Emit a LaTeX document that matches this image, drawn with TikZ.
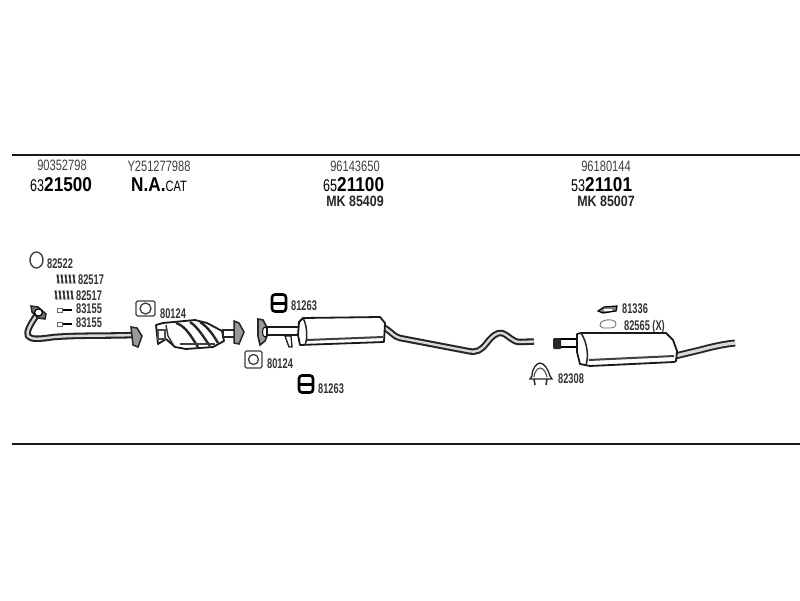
\documentclass[tikz,border=0pt]{standalone}
\usepackage{fontspec}
\setmainfont{Liberation Sans}
\newfontfamily\narrowreg[FakeStretch=0.74]{Liberation Sans}
\newfontfamily\narrowbold[FakeStretch=0.66]{Liberation Sans}
\newfontfamily\mkbold[FakeStretch=0.83]{Liberation Sans}
\newfontfamily\widebold[FakeStretch=0.86]{Liberation Sans}
\begin{document}
\begin{tikzpicture}[x=1pt,y=-1pt,
  rule/.style={line width=1.8pt,draw=black!90},
  hdr/.style={inner sep=0pt,anchor=center,font=\narrowreg\fontsize{15}{15}\selectfont,text=black!75},
  mk/.style={inner sep=0pt,anchor=center,font=\mkbold\bfseries\fontsize{15}{15}\selectfont,text=black!85},
  big/.style={inner sep=0pt,anchor=west,font=\fontsize{20}{20}\selectfont,text=black},
  part/.style={inner sep=0pt,anchor=west,font=\narrowbold\bfseries\fontsize{14}{14}\selectfont,text=black!80},
  pipeo/.style={line width=6.5pt,draw=black!85,line join=round},
  pipei/.style={line width=2.4pt,draw=black!15,line join=round},
  shell/.style={draw=black!90,line width=1.8pt,fill=white,line join=round},
  gasket/.style={draw=black!75,line width=1.3pt,fill=white},
  hanger/.style={draw=black,line width=2.6pt,fill=white,rounded corners=3pt}]
\useasboundingbox (0,0) rectangle (800,600);
\fill[white] (0,0) rectangle (800,600);
\coordinate (r1a) at (12,155); \coordinate (r1b) at (800,155);
\coordinate (r2a) at (12,444); \coordinate (r2b) at (800,444);
\draw[rule] (r1a) -- (r1b);
\draw[rule] (r2a) -- (r2b);
% header text
\node[hdr] (h1) at (62,165.5) {90352798};
\node[big] (h1b) at (30,184.5) {{\narrowreg\fontsize{17}{17}\selectfont 63}{\widebold\bfseries 21500}};
\node[hdr] (h2) at (159,166) {Y251277988};
\node[big] (h2b) at (131,185) {{\widebold\bfseries N.A.}{\narrowreg\fontsize{15}{15}\selectfont CAT}};
\node[hdr] (h3) at (355,166) {96143650};
\node[big] (h3b) at (323,184.5) {{\narrowreg\fontsize{17}{17}\selectfont 65}{\widebold\bfseries 21100}};
\node[mk] (h3c) at (355,201) {MK 85409};
\node[hdr] (h4) at (606,166) {96180144};
\node[big] (h4b) at (571,184.5) {{\narrowreg\fontsize{17}{17}\selectfont 53}{\widebold\bfseries 21101}};
\node[mk] (h4c) at (606,201) {MK 85007};
% part labels
\node[part] (p1) at (47,263.5) {82522};
\node[part] (p2) at (78,279.5) {82517};
\node[part] (p3) at (76,295.5) {82517};
\node[part] (p4) at (76,309) {83155};
\node[part] (p5) at (76,323) {83155};
\node[part] (p6) at (160,313.5) {80124};
\node[part] (p7) at (291,306) {81263};
\node[part] (p8) at (267,364) {80124};
\node[part] (p9) at (318,389) {81263};
\node[part] (p10) at (622,309) {81336};
\node[part] (p11) at (624,326.5) {82565 (X)};
\node[part] (p12) at (558,379) {82308};
% ring 82522
\draw[black!75,line width=1.4pt,fill=white] (36.5,260) ellipse (6.5 and 8);
% springs
\foreach \x/\y in {58/279,56/295}{
  \foreach \d in {0,4,8,12,16}{
    \draw[black!85,line width=1.3pt] (\x+\d-1,\y-4.5) -- (\x+\d+1,\y+4.5);
    \draw[black!70,line width=.8pt] (\x+\d+1,\y-4.5) -- (\x+\d-1,\y+4.5);
  }
}
% bolts
\foreach \y in {310,324}{
  \draw[black!60,line width=.8pt] (57,\y-2) rectangle (62,\y+2);
  \draw[black,line width=2.4pt] (63,\y) -- (72,\y);
}
% front pipe
\draw[pipeo] (36,316) .. controls (30,325) and (26,332) .. (28,336) .. controls (31,340) and (40,339) .. (54,337) .. controls (80,335) and (110,336) .. (134,335);
\draw[pipei] (36,316) .. controls (30,325) and (26,332) .. (28,336) .. controls (31,340) and (40,339) .. (54,337) .. controls (80,335) and (110,336) .. (134,335);
\draw[black!85,line width=1.5pt,fill=black!55] (31,306) -- (38,307) -- (46,314) -- (45,319) -- (38,318) -- (32,312) -- cycle;
\draw[black,line width=1.2pt,fill=white] (38.5,312.5) ellipse (4 and 3.5);
\draw[black!85,line width=1.5pt,fill=black!40] (131,327) -- (137,328) -- (142,336) -- (138,347) -- (133,345) -- cycle;
% gasket 80124 upper
\draw[gasket,rounded corners=1.5pt] (136,301) rectangle (155,316);
\draw[gasket] (145.5,308.5) circle (5.5);
% catalyst
\draw[shell] (156,325) -- (163,323) -- (195,320) -- (207,323) -- (222,331) -- (224,341) -- (213,347) -- (186,349) -- (175,347) -- (166,339) -- (158,344) -- cycle;
\draw[black!80,line width=1.4pt] (166,325) -- (168,336) -- (174,346);
\draw[black!85,line width=2.4pt] (176,323) .. controls (186,326) and (192,338) .. (198,347);
\draw[black!85,line width=2.4pt] (190,322) .. controls (198,327) and (204,338) .. (210,346);
\draw[black!85,line width=2.4pt] (200,322) .. controls (208,327) and (214,336) .. (218,343);
\draw[black!75,line width=1.5pt] (180,344) -- (215,344);
\draw[black!70,line width=1.2pt] (158,330) rectangle (165,339);
\draw[draw=black!85,line width=1.4pt,fill=white] (223,330) -- (236,330) -- (236,337) -- (223,337) -- cycle;
\draw[black!85,line width=1.5pt,fill=black!40] (234,321) -- (239,323) -- (244,332) -- (239,344) -- (234,343) -- cycle;
% mid pipe inlet
\draw[black!85,line width=1.6pt,fill=black!40] (258,319) -- (263,320) -- (269,331) -- (265,341) -- (260,345) -- (258,336) -- cycle;
\draw[black,line width=1pt,fill=white] (265,332) ellipse (2.5 and 5);
\draw[shell,line width=1.5pt] (267,327) rectangle (303,335);
\draw[shell,line width=1.3pt] (285,336) -- (291,336) -- (292,347) -- (289,347) -- cycle;
% rear mid pipe
\draw[pipeo] (383,327) .. controls (391,331) and (394,337) .. (400,338) -- (468,351) .. controls (477,353) and (481,350) .. (486,344) .. controls (492,336) and (497,332) .. (502,333) .. controls (510,336) and (512,342) .. (520,342) -- (534,341.5);
\draw[pipei] (383,327) .. controls (391,331) and (394,337) .. (400,338) -- (468,351) .. controls (477,353) and (481,350) .. (486,344) .. controls (492,336) and (497,332) .. (502,333) .. controls (510,336) and (512,342) .. (520,342) -- (534,341.5);
% mid muffler
\draw[shell] (299,322) -- (303,318) -- (380,317) -- (385,323) -- (384,342) -- (300,345) -- (298,335) -- cycle;
\draw[black!85,line width=1.5pt] (303,318) .. controls (307,325) and (308,338) .. (305,345);
\draw[black!75,line width=2pt] (307,340) -- (383,337);
% gasket lower 80124
\draw[gasket,rounded corners=1.5pt] (245,351) rectangle (262,368);
\draw[gasket] (253.5,359.5) circle (5);
% hangers 81263
\foreach \x/\y in {279/303,306/384}{
  \draw[hanger] (\x-7,\y-8.5) rectangle (\x+7,\y+8.5);
  \fill[black] (\x-7,\y-1.5) rectangle (\x+7,\y+1.5);
}
% rear inlet
\draw[draw=black,line width=1.4pt,fill=white] (556,339) rectangle (580,347);
\fill[black!85,rounded corners=1pt] (553,338) rectangle (561,349);
% tail pipe
\draw[pipeo,line width=7pt] (675,356) -- (700,350) .. controls (715,346) and (725,344) .. (735,343);
\draw[pipei,line width=3.2pt] (675,356) -- (700,350) .. controls (715,346) and (725,344) .. (735,343);
% rear muffler
\draw[shell] (577,334) -- (581,333) -- (666,333) -- (673,340) -- (677,351) -- (676,361) -- (674,362) -- (590,366) -- (580,364) -- (577,352) -- cycle;
\draw[black!85,line width=1.5pt] (581,333) .. controls (587,342) and (589,356) .. (586,365);
\draw[black!75,line width=2pt] (589,360) -- (674,356);
% items 81336 / 82565
\draw[black,line width=1.2pt,fill=black!50] (598,311) -- (604,307) -- (617,306) -- (616,311) -- (603,313) -- cycle;
\fill[white] (604,308.5) rectangle (612,310.5);
\draw[black!55,line width=.9pt] (600,326) .. controls (599,321) and (606,319) .. (612,320) .. controls (618,321) and (617,328) .. (611,328) -- (603,328) -- cycle;
% clamp
\draw[black!85,line width=1.3pt,fill=white] (532,376) .. controls (532,368) and (537,363) .. (540,363) .. controls (544,363) and (548,369) .. (550,376) -- (552,379) -- (530,379) -- cycle;
\draw[black!70,line width=1.1pt] (534,377) .. controls (534,372) and (538,368) .. (540,368) .. controls (543,368) and (546,372) .. (547,377);
\draw[black!85,line width=1.5pt] (534,379) -- (535,385);
\draw[black!85,line width=1.5pt] (547,379) -- (546,385);
\end{tikzpicture}
\end{document}
